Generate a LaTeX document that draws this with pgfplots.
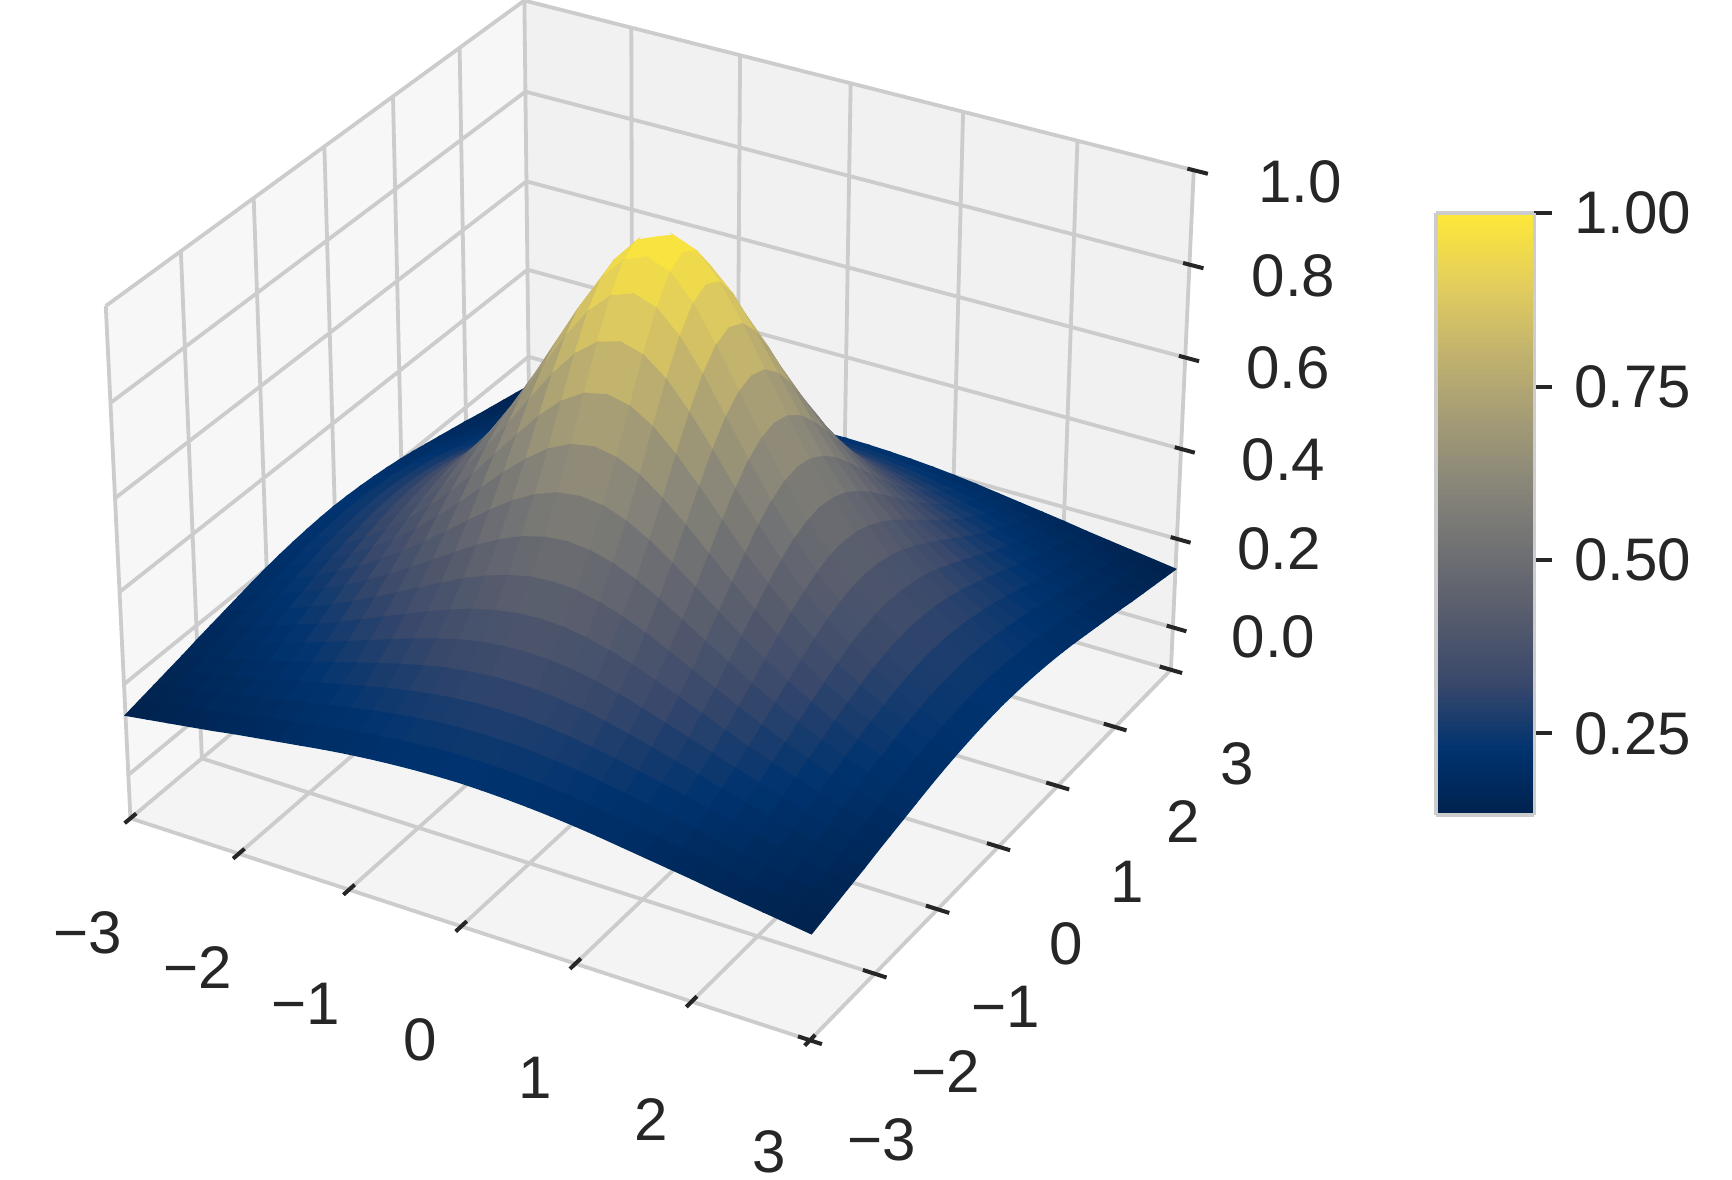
\documentclass[border=0pt]{standalone}
\usepackage{pgfplots}
\pgfplotsset{compat=1.18}
\usepackage{fontspec}
\setmainfont{Liberation Sans}
\definecolor{gr}{HTML}{CCCCCC}
\definecolor{tk}{HTML}{262626}
\pgfplotsset{
 table/sxy/.style={x expr={sx(\thisrow{x},\thisrow{y},\thisrow{z})},y expr={sy(\thisrow{x},\thisrow{y},\thisrow{z})},z expr=0},
}
\newcommand{\lab}[3]{\node[text=tk,font=\fontsize{17.1}{17.1}\selectfont,anchor=center] at (axis cs:#1,{1180-#2}) {#3};}
\begin{document}
\begin{tikzpicture}[x=0.1mm,y=0.1mm]
\useasboundingbox (0,0) rectangle (1732,1180);
\begin{axis}[
 at={(0,0)},anchor=origin,
 view={0}{90},
 width=173.2mm,height=118mm,scale only axis,
 xmin=0,xmax=1732,ymin=0,ymax=1180,
 axis lines=none,clip=false,
 colormap={civ}{rgb255(0)=(0,34,78) rgb255(1)=(0,51,111) rgb255(2)=(57,72,107) rgb255(3)=(87,92,109) rgb255(4)=(112,113,115) rgb255(5)=(138,135,121) rgb255(6)=(166,157,117) rgb255(7)=(196,181,108) rgb255(8)=(228,207,91) rgb255(9)=(254,232,56)},
 point meta min=0.132,point meta max=1,
 declare function={
  sd(\x,\y,\z)=16.8-(0.4330127*\x/3-0.75*\y/3+0.375*(-1+(\z+0.0968)/0.5484));
  sx(\x,\y,\z)=660.3+6539*(0.8660254*\x/3+0.5*\y/3)/sd(\x,\y,\z);
  sy(\x,\y,\z)=684.6+6539*(-0.25*\x/3+0.4330127*\y/3+0.6495191*(-1+(\z+0.0968)/0.5484))/sd(\x,\y,\z);
 },
 colorbar sampled,
 colorbar style={
  at={(1436/1732,{(1180-213.2)/1180})},anchor=north west,
  samples=128,
  width=9.85mm,height=60.2mm,scale only axis,
  ytick={0.25,0.5,0.75,1},
  yticklabel pos=right,ytick pos=right,
  tick align=outside,
  major tick length=1.8mm,
  major tick style={tk,line width=0.4mm},
  axis line style={gr,line width=0.38mm},
  yticklabel style={xshift=0.95mm,text=tk,font=\fontsize{17.1}{17.1}\selectfont,/pgf/number format/.cd,fixed,fixed zerofill,precision=2,assume math mode=true},
 },
]
\addplot3[fill=black!3.3,draw=none,forget plot] table[sxy] {
x y z
-3 -3 -0.0968
-3 3 -0.0968
-3 3 1
-3 -3 1
};
\addplot3[fill=black!5.5,draw=none,forget plot] table[sxy] {
x y z
-3 3 -0.0968
3 3 -0.0968
3 3 1
-3 3 1
};
\addplot3[fill=black!4.3,draw=none,forget plot] table[sxy] {
x y z
-3 -3 -0.0968
3 -3 -0.0968
3 3 -0.0968
-3 3 -0.0968
};
\addplot3[gr,line width=0.38mm,no marks,forget plot,empty line=jump] table[sxy] {
x y z
-3 -3 -0.0968
-3 3 -0.0968
-3 3 1

-2 -3 -0.0968
-2 3 -0.0968
-2 3 1

-1 -3 -0.0968
-1 3 -0.0968
-1 3 1

0 -3 -0.0968
0 3 -0.0968
0 3 1

1 -3 -0.0968
1 3 -0.0968
1 3 1

2 -3 -0.0968
2 3 -0.0968
2 3 1

3 -3 -0.0968
3 3 -0.0968
3 3 1

3 -3 -0.0968
-3 -3 -0.0968
-3 -3 1

3 -2 -0.0968
-3 -2 -0.0968
-3 -2 1

3 -1 -0.0968
-3 -1 -0.0968
-3 -1 1

3 0 -0.0968
-3 0 -0.0968
-3 0 1

3 1 -0.0968
-3 1 -0.0968
-3 1 1

3 2 -0.0968
-3 2 -0.0968
-3 2 1

3 3 -0.0968
-3 3 -0.0968
-3 3 1

-3 -3 0
-3 3 0
3 3 0

-3 -3 0.2
-3 3 0.2
3 3 0.2

-3 -3 0.4
-3 3 0.4
3 3 0.4

-3 -3 0.6
-3 3 0.6
3 3 0.6

-3 -3 0.8
-3 3 0.8
3 3 0.8

-3 -3 1
-3 3 1
3 3 1
};
\addplot3[tk,line width=0.4mm,no marks,forget plot,empty line=jump] table[sxy] {
x y z
-3 -3.08 -0.0968
-3 -2.92 -0.0968

-2 -3.08 -0.0968
-2 -2.92 -0.0968

-1 -3.08 -0.0968
-1 -2.92 -0.0968

0 -3.08 -0.0968
0 -2.92 -0.0968

1 -3.08 -0.0968
1 -2.92 -0.0968

2 -3.08 -0.0968
2 -2.92 -0.0968

3 -3.08 -0.0968
3 -2.92 -0.0968

2.9 -3 -0.0968
3.1 -3 -0.0968

2.9 -2 -0.0968
3.1 -2 -0.0968

2.9 -1 -0.0968
3.1 -1 -0.0968

2.9 0 -0.0968
3.1 0 -0.0968

2.9 1 -0.0968
3.1 1 -0.0968

2.9 2 -0.0968
3.1 2 -0.0968

2.9 3 -0.0968
3.1 3 -0.0968

2.945 3 0
3.12 3 0

2.945 3 0.2
3.12 3 0.2

2.945 3 0.4
3.12 3 0.4

2.945 3 0.6
3.12 3 0.6

2.945 3 0.8
3.12 3 0.8

2.945 3 1
3.12 3 1
};
\addplot3[surf,shader=flat,z buffer=none,mesh/rows=31,mesh/cols=31,point meta=\thisrow{z}] table[sxy] {
x y z
-3 3 0.132
-2.8 3 0.139
-2.6 3 0.146
-2.4 3 0.153
-2.2 3 0.160
-2 3 0.168
-1.8 3 0.175
-1.6 3 0.182
-1.4 3 0.189
-1.2 3 0.196
-1 3 0.202
-0.8 3 0.207
-0.6 3 0.211
-0.4 3 0.214
-0.2 3 0.216
0 3 0.217
0.2 3 0.216
0.4 3 0.214
0.6 3 0.211
0.8 3 0.207
1 3 0.202
1.2 3 0.196
1.4 3 0.189
1.6 3 0.182
1.8 3 0.175
2 3 0.168
2.2 3 0.160
2.4 3 0.153
2.6 3 0.146
2.8 3 0.139
3 3 0.132
-3 2.8 0.139
-2.8 2.8 0.146
-2.6 2.8 0.154
-2.4 2.8 0.162
-2.2 2.8 0.171
-2 2.8 0.179
-1.8 2.8 0.188
-1.6 2.8 0.196
-1.4 2.8 0.205
-1.2 2.8 0.213
-1 2.8 0.220
-0.8 2.8 0.226
-0.6 2.8 0.231
-0.4 2.8 0.235
-0.2 2.8 0.238
0 2.8 0.238
0.2 2.8 0.238
0.4 2.8 0.235
0.6 2.8 0.231
0.8 2.8 0.226
1 2.8 0.220
1.2 2.8 0.213
1.4 2.8 0.205
1.6 2.8 0.196
1.8 2.8 0.188
2 2.8 0.179
2.2 2.8 0.171
2.4 2.8 0.162
2.6 2.8 0.154
2.8 2.8 0.146
3 2.8 0.139
-3 2.6 0.146
-2.8 2.6 0.154
-2.6 2.6 0.163
-2.4 2.6 0.172
-2.2 2.6 0.182
-2 2.6 0.192
-1.8 2.6 0.202
-1.6 2.6 0.212
-1.4 2.6 0.222
-1.2 2.6 0.231
-1 2.6 0.240
-0.8 2.6 0.248
-0.6 2.6 0.254
-0.4 2.6 0.259
-0.2 2.6 0.262
0 2.6 0.263
0.2 2.6 0.262
0.4 2.6 0.259
0.6 2.6 0.254
0.8 2.6 0.248
1 2.6 0.240
1.2 2.6 0.231
1.4 2.6 0.222
1.6 2.6 0.212
1.8 2.6 0.202
2 2.6 0.192
2.2 2.6 0.182
2.4 2.6 0.172
2.6 2.6 0.163
2.8 2.6 0.154
3 2.6 0.146
-3 2.4 0.153
-2.8 2.4 0.162
-2.6 2.4 0.172
-2.4 2.4 0.183
-2.2 2.4 0.194
-2 2.4 0.205
-1.8 2.4 0.217
-1.6 2.4 0.229
-1.4 2.4 0.241
-1.2 2.4 0.252
-1 2.4 0.263
-0.8 2.4 0.272
-0.6 2.4 0.280
-0.4 2.4 0.286
-0.2 2.4 0.290
0 2.4 0.291
0.2 2.4 0.290
0.4 2.4 0.286
0.6 2.4 0.280
0.8 2.4 0.272
1 2.4 0.263
1.2 2.4 0.252
1.4 2.4 0.241
1.6 2.4 0.229
1.8 2.4 0.217
2 2.4 0.205
2.2 2.4 0.194
2.4 2.4 0.183
2.6 2.4 0.172
2.8 2.4 0.162
3 2.4 0.153
-3 2.2 0.160
-2.8 2.2 0.171
-2.6 2.2 0.182
-2.4 2.2 0.194
-2.2 2.2 0.206
-2 2.2 0.220
-1.8 2.2 0.234
-1.6 2.2 0.248
-1.4 2.2 0.262
-1.2 2.2 0.276
-1 2.2 0.289
-0.8 2.2 0.301
-0.6 2.2 0.311
-0.4 2.2 0.318
-0.2 2.2 0.323
0 2.2 0.325
0.2 2.2 0.323
0.4 2.2 0.318
0.6 2.2 0.311
0.8 2.2 0.301
1 2.2 0.289
1.2 2.2 0.276
1.4 2.2 0.262
1.6 2.2 0.248
1.8 2.2 0.234
2 2.2 0.220
2.2 2.2 0.206
2.4 2.2 0.194
2.6 2.2 0.182
2.8 2.2 0.171
3 2.2 0.160
-3 2 0.168
-2.8 2 0.179
-2.6 2 0.192
-2.4 2 0.205
-2.2 2 0.220
-2 2 0.235
-1.8 2 0.251
-1.6 2 0.268
-1.4 2 0.285
-1.2 2 0.302
-1 2 0.318
-0.8 2 0.333
-0.6 2 0.346
-0.4 2 0.355
-0.2 2 0.361
0 2 0.363
0.2 2 0.361
0.4 2 0.355
0.6 2 0.346
0.8 2 0.333
1 2 0.318
1.2 2 0.302
1.4 2 0.285
1.6 2 0.268
1.8 2 0.251
2 2 0.235
2.2 2 0.220
2.4 2 0.205
2.6 2 0.192
2.8 2 0.179
3 2 0.168
-3 1.8 0.175
-2.8 1.8 0.188
-2.6 1.8 0.202
-2.4 1.8 0.217
-2.2 1.8 0.234
-2 1.8 0.251
-1.8 1.8 0.270
-1.6 1.8 0.290
-1.4 1.8 0.311
-1.2 1.8 0.331
-1 1.8 0.351
-0.8 1.8 0.370
-0.6 1.8 0.386
-0.4 1.8 0.398
-0.2 1.8 0.406
0 1.8 0.409
0.2 1.8 0.406
0.4 1.8 0.398
0.6 1.8 0.386
0.8 1.8 0.370
1 1.8 0.351
1.2 1.8 0.331
1.4 1.8 0.311
1.6 1.8 0.290
1.8 1.8 0.270
2 1.8 0.251
2.2 1.8 0.234
2.4 1.8 0.217
2.6 1.8 0.202
2.8 1.8 0.188
3 1.8 0.175
-3 1.6 0.182
-2.8 1.6 0.196
-2.6 1.6 0.212
-2.4 1.6 0.229
-2.2 1.6 0.248
-2 1.6 0.268
-1.8 1.6 0.290
-1.6 1.6 0.314
-1.4 1.6 0.338
-1.2 1.6 0.363
-1 1.6 0.388
-0.8 1.6 0.412
-0.6 1.6 0.432
-0.4 1.6 0.448
-0.2 1.6 0.459
0 1.6 0.462
0.2 1.6 0.459
0.4 1.6 0.448
0.6 1.6 0.432
0.8 1.6 0.412
1 1.6 0.388
1.2 1.6 0.363
1.4 1.6 0.338
1.6 1.6 0.314
1.8 1.6 0.290
2 1.6 0.268
2.2 1.6 0.248
2.4 1.6 0.229
2.6 1.6 0.212
2.8 1.6 0.196
3 1.6 0.182
-3 1.4 0.189
-2.8 1.4 0.205
-2.6 1.4 0.222
-2.4 1.4 0.241
-2.2 1.4 0.262
-2 1.4 0.285
-1.8 1.4 0.311
-1.6 1.4 0.338
-1.4 1.4 0.368
-1.2 1.4 0.398
-1 1.4 0.429
-0.8 1.4 0.459
-0.6 1.4 0.485
-0.4 1.4 0.506
-0.2 1.4 0.519
0 1.4 0.524
0.2 1.4 0.519
0.4 1.4 0.506
0.6 1.4 0.485
0.8 1.4 0.459
1 1.4 0.429
1.2 1.4 0.398
1.4 1.4 0.368
1.6 1.4 0.338
1.8 1.4 0.311
2 1.4 0.285
2.2 1.4 0.262
2.4 1.4 0.241
2.6 1.4 0.222
2.8 1.4 0.205
3 1.4 0.189
-3 1.2 0.196
-2.8 1.2 0.213
-2.6 1.2 0.231
-2.4 1.2 0.252
-2.2 1.2 0.276
-2 1.2 0.302
-1.8 1.2 0.331
-1.6 1.2 0.363
-1.4 1.2 0.398
-1.2 1.2 0.435
-1 1.2 0.473
-0.8 1.2 0.510
-0.6 1.2 0.544
-0.4 1.2 0.571
-0.2 1.2 0.589
0 1.2 0.595
0.2 1.2 0.589
0.4 1.2 0.571
0.6 1.2 0.544
0.8 1.2 0.510
1 1.2 0.473
1.2 1.2 0.435
1.4 1.2 0.398
1.6 1.2 0.363
1.8 1.2 0.331
2 1.2 0.302
2.2 1.2 0.276
2.4 1.2 0.252
2.6 1.2 0.231
2.8 1.2 0.213
3 1.2 0.196
-3 1 0.202
-2.8 1 0.220
-2.6 1 0.240
-2.4 1 0.263
-2.2 1 0.289
-2 1 0.318
-1.8 1 0.351
-1.6 1 0.388
-1.4 1 0.429
-1.2 1 0.473
-1 1 0.519
-0.8 1 0.566
-0.6 1 0.608
-0.4 1 0.644
-0.2 1 0.667
0 1 0.676
0.2 1 0.667
0.4 1 0.644
0.6 1 0.608
0.8 1 0.566
1 1 0.519
1.2 1 0.473
1.4 1 0.429
1.6 1 0.388
1.8 1 0.351
2 1 0.318
2.2 1 0.289
2.4 1 0.263
2.6 1 0.240
2.8 1 0.220
3 1 0.202
-3 0.8 0.207
-2.8 0.8 0.226
-2.6 0.8 0.248
-2.4 0.8 0.272
-2.2 0.8 0.301
-2 0.8 0.333
-1.8 0.8 0.370
-1.6 0.8 0.412
-1.4 0.8 0.459
-1.2 0.8 0.510
-1 0.8 0.566
-0.8 0.8 0.622
-0.6 0.8 0.676
-0.4 0.8 0.721
-0.2 0.8 0.751
0 0.8 0.762
0.2 0.8 0.751
0.4 0.8 0.721
0.6 0.8 0.676
0.8 0.8 0.622
1 0.8 0.566
1.2 0.8 0.510
1.4 0.8 0.459
1.6 0.8 0.412
1.8 0.8 0.370
2 0.8 0.333
2.2 0.8 0.301
2.4 0.8 0.272
2.6 0.8 0.248
2.8 0.8 0.226
3 0.8 0.207
-3 0.6 0.211
-2.8 0.6 0.231
-2.6 0.6 0.254
-2.4 0.6 0.280
-2.2 0.6 0.311
-2 0.6 0.346
-1.8 0.6 0.386
-1.6 0.6 0.432
-1.4 0.6 0.485
-1.2 0.6 0.544
-1 0.6 0.608
-0.8 0.6 0.676
-0.6 0.6 0.741
-0.4 0.6 0.797
-0.2 0.6 0.835
0 0.6 0.849
0.2 0.6 0.835
0.4 0.6 0.797
0.6 0.6 0.741
0.8 0.6 0.676
1 0.6 0.608
1.2 0.6 0.544
1.4 0.6 0.485
1.6 0.6 0.432
1.8 0.6 0.386
2 0.6 0.346
2.2 0.6 0.311
2.4 0.6 0.280
2.6 0.6 0.254
2.8 0.6 0.231
3 0.6 0.211
-3 0.4 0.214
-2.8 0.4 0.235
-2.6 0.4 0.259
-2.4 0.4 0.286
-2.2 0.4 0.318
-2 0.4 0.355
-1.8 0.4 0.398
-1.6 0.4 0.448
-1.4 0.4 0.506
-1.2 0.4 0.571
-1 0.4 0.644
-0.8 0.4 0.721
-0.6 0.4 0.797
-0.4 0.4 0.863
-0.2 0.4 0.909
0 0.4 0.926
0.2 0.4 0.909
0.4 0.4 0.863
0.6 0.4 0.797
0.8 0.4 0.721
1 0.4 0.644
1.2 0.4 0.571
1.4 0.4 0.506
1.6 0.4 0.448
1.8 0.4 0.398
2 0.4 0.355
2.2 0.4 0.318
2.4 0.4 0.286
2.6 0.4 0.259
2.8 0.4 0.235
3 0.4 0.214
-3 0.2 0.216
-2.8 0.2 0.238
-2.6 0.2 0.262
-2.4 0.2 0.290
-2.2 0.2 0.323
-2 0.2 0.361
-1.8 0.2 0.406
-1.6 0.2 0.459
-1.4 0.2 0.519
-1.2 0.2 0.589
-1 0.2 0.667
-0.8 0.2 0.751
-0.6 0.2 0.835
-0.4 0.2 0.909
-0.2 0.2 0.961
0 0.2 0.980
0.2 0.2 0.961
0.4 0.2 0.909
0.6 0.2 0.835
0.8 0.2 0.751
1 0.2 0.667
1.2 0.2 0.589
1.4 0.2 0.519
1.6 0.2 0.459
1.8 0.2 0.406
2 0.2 0.361
2.2 0.2 0.323
2.4 0.2 0.290
2.6 0.2 0.262
2.8 0.2 0.238
3 0.2 0.216
-3 0 0.217
-2.8 0 0.238
-2.6 0 0.263
-2.4 0 0.291
-2.2 0 0.325
-2 0 0.363
-1.8 0 0.409
-1.6 0 0.462
-1.4 0 0.524
-1.2 0 0.595
-1 0 0.676
-0.8 0 0.762
-0.6 0 0.849
-0.4 0 0.926
-0.2 0 0.980
0 0 1.000
0.2 0 0.980
0.4 0 0.926
0.6 0 0.849
0.8 0 0.762
1 0 0.676
1.2 0 0.595
1.4 0 0.524
1.6 0 0.462
1.8 0 0.409
2 0 0.363
2.2 0 0.325
2.4 0 0.291
2.6 0 0.263
2.8 0 0.238
3 0 0.217
-3 -0.2 0.216
-2.8 -0.2 0.238
-2.6 -0.2 0.262
-2.4 -0.2 0.290
-2.2 -0.2 0.323
-2 -0.2 0.361
-1.8 -0.2 0.406
-1.6 -0.2 0.459
-1.4 -0.2 0.519
-1.2 -0.2 0.589
-1 -0.2 0.667
-0.8 -0.2 0.751
-0.6 -0.2 0.835
-0.4 -0.2 0.909
-0.2 -0.2 0.961
0 -0.2 0.980
0.2 -0.2 0.961
0.4 -0.2 0.909
0.6 -0.2 0.835
0.8 -0.2 0.751
1 -0.2 0.667
1.2 -0.2 0.589
1.4 -0.2 0.519
1.6 -0.2 0.459
1.8 -0.2 0.406
2 -0.2 0.361
2.2 -0.2 0.323
2.4 -0.2 0.290
2.6 -0.2 0.262
2.8 -0.2 0.238
3 -0.2 0.216
-3 -0.4 0.214
-2.8 -0.4 0.235
-2.6 -0.4 0.259
-2.4 -0.4 0.286
-2.2 -0.4 0.318
-2 -0.4 0.355
-1.8 -0.4 0.398
-1.6 -0.4 0.448
-1.4 -0.4 0.506
-1.2 -0.4 0.571
-1 -0.4 0.644
-0.8 -0.4 0.721
-0.6 -0.4 0.797
-0.4 -0.4 0.863
-0.2 -0.4 0.909
0 -0.4 0.926
0.2 -0.4 0.909
0.4 -0.4 0.863
0.6 -0.4 0.797
0.8 -0.4 0.721
1 -0.4 0.644
1.2 -0.4 0.571
1.4 -0.4 0.506
1.6 -0.4 0.448
1.8 -0.4 0.398
2 -0.4 0.355
2.2 -0.4 0.318
2.4 -0.4 0.286
2.6 -0.4 0.259
2.8 -0.4 0.235
3 -0.4 0.214
-3 -0.6 0.211
-2.8 -0.6 0.231
-2.6 -0.6 0.254
-2.4 -0.6 0.280
-2.2 -0.6 0.311
-2 -0.6 0.346
-1.8 -0.6 0.386
-1.6 -0.6 0.432
-1.4 -0.6 0.485
-1.2 -0.6 0.544
-1 -0.6 0.608
-0.8 -0.6 0.676
-0.6 -0.6 0.741
-0.4 -0.6 0.797
-0.2 -0.6 0.835
0 -0.6 0.849
0.2 -0.6 0.835
0.4 -0.6 0.797
0.6 -0.6 0.741
0.8 -0.6 0.676
1 -0.6 0.608
1.2 -0.6 0.544
1.4 -0.6 0.485
1.6 -0.6 0.432
1.8 -0.6 0.386
2 -0.6 0.346
2.2 -0.6 0.311
2.4 -0.6 0.280
2.6 -0.6 0.254
2.8 -0.6 0.231
3 -0.6 0.211
-3 -0.8 0.207
-2.8 -0.8 0.226
-2.6 -0.8 0.248
-2.4 -0.8 0.272
-2.2 -0.8 0.301
-2 -0.8 0.333
-1.8 -0.8 0.370
-1.6 -0.8 0.412
-1.4 -0.8 0.459
-1.2 -0.8 0.510
-1 -0.8 0.566
-0.8 -0.8 0.622
-0.6 -0.8 0.676
-0.4 -0.8 0.721
-0.2 -0.8 0.751
0 -0.8 0.762
0.2 -0.8 0.751
0.4 -0.8 0.721
0.6 -0.8 0.676
0.8 -0.8 0.622
1 -0.8 0.566
1.2 -0.8 0.510
1.4 -0.8 0.459
1.6 -0.8 0.412
1.8 -0.8 0.370
2 -0.8 0.333
2.2 -0.8 0.301
2.4 -0.8 0.272
2.6 -0.8 0.248
2.8 -0.8 0.226
3 -0.8 0.207
-3 -1 0.202
-2.8 -1 0.220
-2.6 -1 0.240
-2.4 -1 0.263
-2.2 -1 0.289
-2 -1 0.318
-1.8 -1 0.351
-1.6 -1 0.388
-1.4 -1 0.429
-1.2 -1 0.473
-1 -1 0.519
-0.8 -1 0.566
-0.6 -1 0.608
-0.4 -1 0.644
-0.2 -1 0.667
0 -1 0.676
0.2 -1 0.667
0.4 -1 0.644
0.6 -1 0.608
0.8 -1 0.566
1 -1 0.519
1.2 -1 0.473
1.4 -1 0.429
1.6 -1 0.388
1.8 -1 0.351
2 -1 0.318
2.2 -1 0.289
2.4 -1 0.263
2.6 -1 0.240
2.8 -1 0.220
3 -1 0.202
-3 -1.2 0.196
-2.8 -1.2 0.213
-2.6 -1.2 0.231
-2.4 -1.2 0.252
-2.2 -1.2 0.276
-2 -1.2 0.302
-1.8 -1.2 0.331
-1.6 -1.2 0.363
-1.4 -1.2 0.398
-1.2 -1.2 0.435
-1 -1.2 0.473
-0.8 -1.2 0.510
-0.6 -1.2 0.544
-0.4 -1.2 0.571
-0.2 -1.2 0.589
0 -1.2 0.595
0.2 -1.2 0.589
0.4 -1.2 0.571
0.6 -1.2 0.544
0.8 -1.2 0.510
1 -1.2 0.473
1.2 -1.2 0.435
1.4 -1.2 0.398
1.6 -1.2 0.363
1.8 -1.2 0.331
2 -1.2 0.302
2.2 -1.2 0.276
2.4 -1.2 0.252
2.6 -1.2 0.231
2.8 -1.2 0.213
3 -1.2 0.196
-3 -1.4 0.189
-2.8 -1.4 0.205
-2.6 -1.4 0.222
-2.4 -1.4 0.241
-2.2 -1.4 0.262
-2 -1.4 0.285
-1.8 -1.4 0.311
-1.6 -1.4 0.338
-1.4 -1.4 0.368
-1.2 -1.4 0.398
-1 -1.4 0.429
-0.8 -1.4 0.459
-0.6 -1.4 0.485
-0.4 -1.4 0.506
-0.2 -1.4 0.519
0 -1.4 0.524
0.2 -1.4 0.519
0.4 -1.4 0.506
0.6 -1.4 0.485
0.8 -1.4 0.459
1 -1.4 0.429
1.2 -1.4 0.398
1.4 -1.4 0.368
1.6 -1.4 0.338
1.8 -1.4 0.311
2 -1.4 0.285
2.2 -1.4 0.262
2.4 -1.4 0.241
2.6 -1.4 0.222
2.8 -1.4 0.205
3 -1.4 0.189
-3 -1.6 0.182
-2.8 -1.6 0.196
-2.6 -1.6 0.212
-2.4 -1.6 0.229
-2.2 -1.6 0.248
-2 -1.6 0.268
-1.8 -1.6 0.290
-1.6 -1.6 0.314
-1.4 -1.6 0.338
-1.2 -1.6 0.363
-1 -1.6 0.388
-0.8 -1.6 0.412
-0.6 -1.6 0.432
-0.4 -1.6 0.448
-0.2 -1.6 0.459
0 -1.6 0.462
0.2 -1.6 0.459
0.4 -1.6 0.448
0.6 -1.6 0.432
0.8 -1.6 0.412
1 -1.6 0.388
1.2 -1.6 0.363
1.4 -1.6 0.338
1.6 -1.6 0.314
1.8 -1.6 0.290
2 -1.6 0.268
2.2 -1.6 0.248
2.4 -1.6 0.229
2.6 -1.6 0.212
2.8 -1.6 0.196
3 -1.6 0.182
-3 -1.8 0.175
-2.8 -1.8 0.188
-2.6 -1.8 0.202
-2.4 -1.8 0.217
-2.2 -1.8 0.234
-2 -1.8 0.251
-1.8 -1.8 0.270
-1.6 -1.8 0.290
-1.4 -1.8 0.311
-1.2 -1.8 0.331
-1 -1.8 0.351
-0.8 -1.8 0.370
-0.6 -1.8 0.386
-0.4 -1.8 0.398
-0.2 -1.8 0.406
0 -1.8 0.409
0.2 -1.8 0.406
0.4 -1.8 0.398
0.6 -1.8 0.386
0.8 -1.8 0.370
1 -1.8 0.351
1.2 -1.8 0.331
1.4 -1.8 0.311
1.6 -1.8 0.290
1.8 -1.8 0.270
2 -1.8 0.251
2.2 -1.8 0.234
2.4 -1.8 0.217
2.6 -1.8 0.202
2.8 -1.8 0.188
3 -1.8 0.175
-3 -2 0.168
-2.8 -2 0.179
-2.6 -2 0.192
-2.4 -2 0.205
-2.2 -2 0.220
-2 -2 0.235
-1.8 -2 0.251
-1.6 -2 0.268
-1.4 -2 0.285
-1.2 -2 0.302
-1 -2 0.318
-0.8 -2 0.333
-0.6 -2 0.346
-0.4 -2 0.355
-0.2 -2 0.361
0 -2 0.363
0.2 -2 0.361
0.4 -2 0.355
0.6 -2 0.346
0.8 -2 0.333
1 -2 0.318
1.2 -2 0.302
1.4 -2 0.285
1.6 -2 0.268
1.8 -2 0.251
2 -2 0.235
2.2 -2 0.220
2.4 -2 0.205
2.6 -2 0.192
2.8 -2 0.179
3 -2 0.168
-3 -2.2 0.160
-2.8 -2.2 0.171
-2.6 -2.2 0.182
-2.4 -2.2 0.194
-2.2 -2.2 0.206
-2 -2.2 0.220
-1.8 -2.2 0.234
-1.6 -2.2 0.248
-1.4 -2.2 0.262
-1.2 -2.2 0.276
-1 -2.2 0.289
-0.8 -2.2 0.301
-0.6 -2.2 0.311
-0.4 -2.2 0.318
-0.2 -2.2 0.323
0 -2.2 0.325
0.2 -2.2 0.323
0.4 -2.2 0.318
0.6 -2.2 0.311
0.8 -2.2 0.301
1 -2.2 0.289
1.2 -2.2 0.276
1.4 -2.2 0.262
1.6 -2.2 0.248
1.8 -2.2 0.234
2 -2.2 0.220
2.2 -2.2 0.206
2.4 -2.2 0.194
2.6 -2.2 0.182
2.8 -2.2 0.171
3 -2.2 0.160
-3 -2.4 0.153
-2.8 -2.4 0.162
-2.6 -2.4 0.172
-2.4 -2.4 0.183
-2.2 -2.4 0.194
-2 -2.4 0.205
-1.8 -2.4 0.217
-1.6 -2.4 0.229
-1.4 -2.4 0.241
-1.2 -2.4 0.252
-1 -2.4 0.263
-0.8 -2.4 0.272
-0.6 -2.4 0.280
-0.4 -2.4 0.286
-0.2 -2.4 0.290
0 -2.4 0.291
0.2 -2.4 0.290
0.4 -2.4 0.286
0.6 -2.4 0.280
0.8 -2.4 0.272
1 -2.4 0.263
1.2 -2.4 0.252
1.4 -2.4 0.241
1.6 -2.4 0.229
1.8 -2.4 0.217
2 -2.4 0.205
2.2 -2.4 0.194
2.4 -2.4 0.183
2.6 -2.4 0.172
2.8 -2.4 0.162
3 -2.4 0.153
-3 -2.6 0.146
-2.8 -2.6 0.154
-2.6 -2.6 0.163
-2.4 -2.6 0.172
-2.2 -2.6 0.182
-2 -2.6 0.192
-1.8 -2.6 0.202
-1.6 -2.6 0.212
-1.4 -2.6 0.222
-1.2 -2.6 0.231
-1 -2.6 0.240
-0.8 -2.6 0.248
-0.6 -2.6 0.254
-0.4 -2.6 0.259
-0.2 -2.6 0.262
0 -2.6 0.263
0.2 -2.6 0.262
0.4 -2.6 0.259
0.6 -2.6 0.254
0.8 -2.6 0.248
1 -2.6 0.240
1.2 -2.6 0.231
1.4 -2.6 0.222
1.6 -2.6 0.212
1.8 -2.6 0.202
2 -2.6 0.192
2.2 -2.6 0.182
2.4 -2.6 0.172
2.6 -2.6 0.163
2.8 -2.6 0.154
3 -2.6 0.146
-3 -2.8 0.139
-2.8 -2.8 0.146
-2.6 -2.8 0.154
-2.4 -2.8 0.162
-2.2 -2.8 0.171
-2 -2.8 0.179
-1.8 -2.8 0.188
-1.6 -2.8 0.196
-1.4 -2.8 0.205
-1.2 -2.8 0.213
-1 -2.8 0.220
-0.8 -2.8 0.226
-0.6 -2.8 0.231
-0.4 -2.8 0.235
-0.2 -2.8 0.238
0 -2.8 0.238
0.2 -2.8 0.238
0.4 -2.8 0.235
0.6 -2.8 0.231
0.8 -2.8 0.226
1 -2.8 0.220
1.2 -2.8 0.213
1.4 -2.8 0.205
1.6 -2.8 0.196
1.8 -2.8 0.188
2 -2.8 0.179
2.2 -2.8 0.171
2.4 -2.8 0.162
2.6 -2.8 0.154
2.8 -2.8 0.146
3 -2.8 0.139
-3 -3 0.132
-2.8 -3 0.139
-2.6 -3 0.146
-2.4 -3 0.153
-2.2 -3 0.160
-2 -3 0.168
-1.8 -3 0.175
-1.6 -3 0.182
-1.4 -3 0.189
-1.2 -3 0.196
-1 -3 0.202
-0.8 -3 0.207
-0.6 -3 0.211
-0.4 -3 0.214
-0.2 -3 0.216
0 -3 0.217
0.2 -3 0.216
0.4 -3 0.214
0.6 -3 0.211
0.8 -3 0.207
1 -3 0.202
1.2 -3 0.196
1.4 -3 0.189
1.6 -3 0.182
1.8 -3 0.175
2 -3 0.168
2.2 -3 0.160
2.4 -3 0.153
2.6 -3 0.146
2.8 -3 0.139
3 -3 0.132
};
\lab{1300}{182}{1.0}
\lab{1293.5}{276}{0.8}
\lab{1288}{368}{0.6}
\lab{1283.5}{459.5}{0.4}
\lab{1279}{549}{0.2}
\lab{1273.6}{637}{0.0}
\lab{88}{933}{−3}
\lab{198}{968}{−2}
\lab{306}{1004}{−1}
\lab{420}{1040}{0}
\lab{535}{1078}{1}
\lab{651}{1120}{2}
\lab{769}{1152}{3}
\lab{881.5}{1140}{−3}
\lab{945.6}{1071.5}{−2}
\lab{1006}{1007}{−1}
\lab{1066}{944}{0}
\lab{1127}{881.5}{1}
\lab{1183}{822}{2}
\lab{1237}{764}{3}
\end{axis}
\end{tikzpicture}
\end{document}
